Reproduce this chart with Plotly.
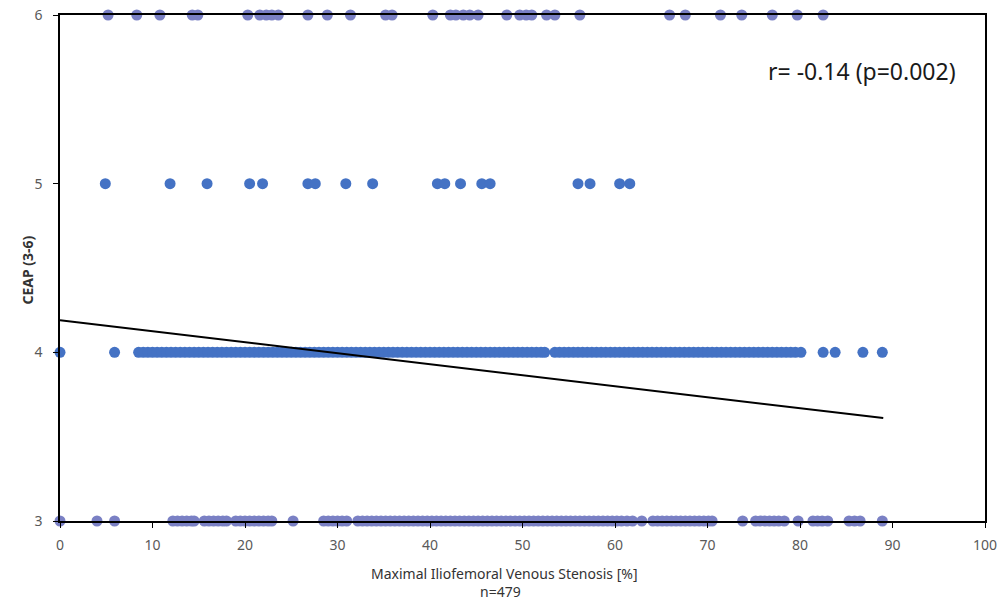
import plotly.graph_objects as go

# CEAP level rows: x = maximal iliofemoral venous stenosis [%]
ceap6_x = [5.2, 8.3, 10.8, 14.3, 14.9, 20.3, 21.6, 22.3, 22.9, 23.6, 26.8, 28.9, 31.4,
           35.2, 35.9, 40.3, 42.2, 42.8, 43.6, 44.3, 45.2, 48.3, 49.7, 50.4, 51.0, 52.6,
           53.5, 56.2, 65.9, 67.6, 71.4, 73.7, 77.0, 79.7, 82.5]
ceap5_x = [4.9, 11.9, 15.9, 20.5, 21.9, 26.8, 27.6, 30.9, 33.8, 40.8, 41.6, 43.3, 45.6,
           46.5, 56.0, 57.3, 60.5, 61.6]
ceap4_x = [0, 5.9,
           8.5, 9.0, 9.5, 10.0, 10.5, 11.0, 11.5, 12.0, 12.5, 13.0, 13.5, 14.0, 14.5,
           15.0, 15.5, 16.0, 16.5, 17.0, 17.5, 18.0, 18.5, 19.0, 19.5, 20.0, 20.5, 21.0,
           21.5, 22.0, 22.5, 23.0, 23.5, 24.0, 24.5, 25.0, 25.5, 26.0, 26.5, 27.0, 27.5,
           28.0, 28.5, 29.0, 29.5, 30.0, 30.5, 31.0, 31.5, 32.0, 32.5, 33.0, 33.5, 34.0,
           34.5, 35.0, 35.5, 36.0, 36.5, 37.0, 37.5, 38.0, 38.5, 39.0, 39.5, 40.0, 40.5,
           41.0, 41.5, 42.0, 42.5, 43.0, 43.5, 44.0, 44.5, 45.0, 45.5, 46.0, 46.5, 47.0,
           47.5, 48.0, 48.5, 49.0, 49.5, 50.0, 50.5, 51.0, 51.5, 52.0, 52.4,
           53.5, 54.0, 54.5, 55.0, 55.5, 56.0, 56.5, 57.0, 57.5, 58.0, 58.5, 59.0, 59.5,
           60.0, 60.5, 61.0, 61.5, 62.0, 62.5, 63.0, 63.5, 64.0, 64.5, 65.0, 65.5, 66.0,
           66.5, 67.0, 67.5, 68.0, 68.5, 69.0, 69.5, 70.0, 70.5, 71.0, 71.5, 72.0, 72.5,
           73.0, 73.5, 74.0, 74.5, 75.0, 75.5, 76.0, 76.5, 77.0, 77.5, 78.0, 78.5, 79.0,
           79.5, 80.1,
           82.5, 83.8, 86.8, 88.9]
ceap3_x = [0, 4.0, 5.9,
           12.2, 12.7, 13.2, 13.7, 14.2, 14.5,
           15.6, 16.1, 16.6, 17.1, 17.6, 18.0,
           19.0, 19.5, 20.0, 20.5, 21.0, 21.5, 22.0, 22.5, 22.9,
           25.2,
           28.5, 29.0, 29.5, 30.0, 30.5, 31.0,
           32.2, 32.7, 33.2, 33.7, 34.2, 34.7, 35.2, 35.7, 36.2, 36.7, 37.2, 37.7, 38.2,
           38.7, 39.2, 39.7, 40.2, 40.7, 41.2, 41.7, 42.2, 42.7, 43.2, 43.7, 44.2, 44.7,
           45.2, 45.7, 46.2, 46.7, 47.2, 47.7, 48.2, 48.7, 49.2, 49.7, 50.2, 50.7, 51.2,
           51.7, 52.2, 52.7, 53.2, 53.7, 54.2, 54.7, 55.2, 55.7, 56.2, 56.7, 57.2, 57.7,
           58.2, 58.7, 59.2, 59.7, 60.2, 60.7, 61.3,
           61.9, 62.9,
           64.1, 64.6, 65.1, 65.6, 66.1, 66.6, 67.1, 67.6, 68.1, 68.6, 69.1, 69.6, 70.1,
           70.5,
           73.8,
           75.2, 75.7, 76.2, 76.7, 77.2, 77.7, 78.3,
           79.8,
           81.4, 81.9, 82.4, 83.0,
           85.3, 85.9, 86.5,
           88.9]

trend_x = [0, 89]
trend_y = [4.19, 3.61]

x_ticks = [0, 10, 20, 30, 40, 50, 60, 70, 80, 90, 100]
y_ticks = [3, 4, 5, 6]

FONT = "Noto Sans"
edge_color = "#7a80c4"
mid_color = "#4472C4"

fig = go.Figure()
for xs, level, col in [(ceap6_x, 6, edge_color), (ceap5_x, 5, mid_color),
                       (ceap4_x, 4, mid_color), (ceap3_x, 3, edge_color)]:
    fig.add_trace(go.Scatter(
        x=xs, y=[level] * len(xs), mode="markers",
        marker=dict(color=col, size=11, line=dict(width=0)),
        cliponaxis=False, showlegend=False, hoverinfo="x+y"))

fig.add_trace(go.Scatter(x=trend_x, y=trend_y, mode="lines",
                         line=dict(color="black", width=2), showlegend=False))

axis_common = dict(showgrid=False, zeroline=False, showline=True, linecolor="black",
                   linewidth=1.5, mirror=True, ticks="outside", ticklen=5,
                   tickcolor="black", layer="above traces", automargin=False,
                   tickfont=dict(family=FONT, size=14, color="#595959"))

fig.update_xaxes(range=[0, 100], tickvals=x_ticks, ticklabelstandoff=5, **axis_common)
fig.update_yaxes(range=[3, 6], tickvals=y_ticks, ticklabelstandoff=8, **axis_common)

fig.add_annotation(text="r= -0.14 (p=0.002)", x=86.7, y=5.67, xref="x", yref="y",
                   showarrow=False, font=dict(family=FONT, size=23, color="#1a1a1a"))
fig.add_annotation(text="Maximal Iliofemoral Venous Stenosis [%]", x=0.48, y=-0.1028,
                   xref="paper", yref="paper", showarrow=False, yanchor="middle",
                   font=dict(family=FONT, size=14, color="#333333"))
fig.add_annotation(text="n=479", x=0.476, y=-0.1403, xref="paper", yref="paper",
                   showarrow=False, yanchor="middle",
                   font=dict(family=FONT, size=14, color="#333333"))
fig.add_annotation(text="<b>CEAP (3-6)</b>", x=-0.0486, y=0.496, xref="paper",
                   yref="paper", showarrow=False, textangle=-90,
                   font=dict(family=FONT, size=14, color="#333333"))

fig.update_layout(width=1000, height=602, margin=dict(l=60, r=15, t=15, b=81),
                  plot_bgcolor="white", paper_bgcolor="white")

fig.write_html("out.html")
